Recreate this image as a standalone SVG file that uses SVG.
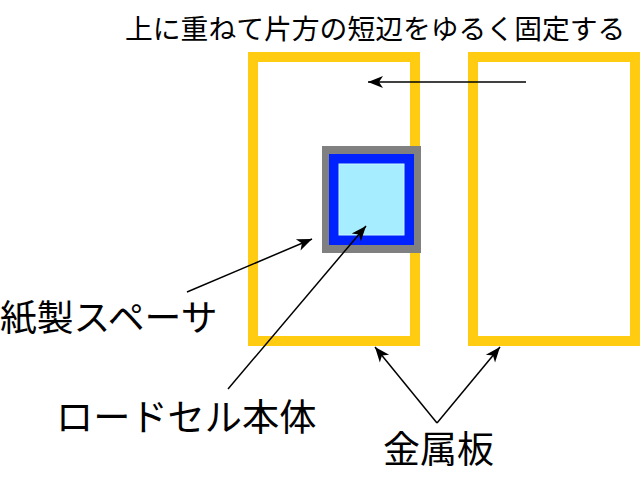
<svg xmlns="http://www.w3.org/2000/svg" width="640" height="480" viewBox="0 0 640 480">
<style>
.lbl{font-family:"Noto Sans CJK JP","Noto Sans",sans-serif;fill:#000}
.plate{fill:none;stroke:#ffcc11;stroke-width:10}
.conn{stroke:#000;stroke-width:1.5;fill:none;marker-end:url(#ah)}
</style>
<defs>
<marker id="ah" markerUnits="userSpaceOnUse" viewBox="-16 -7 18 14" markerWidth="18" markerHeight="14" refX="0" refY="0" orient="auto">
<path d="M0,0 L-15,-6 L-11,0 L-15,6 Z" fill="#000"/>
</marker>
</defs>
<rect width="640" height="480" fill="#fff"/>
<g id="plate-left"><rect class="plate" x="253" y="57" width="162" height="284"/></g>
<g id="plate-right"><rect class="plate" x="473" y="57" width="162" height="284"/></g>
<g id="spacer"><rect x="322" y="146" width="99" height="107" fill="#808080"/></g>
<g id="loadcell">
<rect x="329" y="154" width="85" height="91" fill="#0022ff"/>
<rect x="339" y="164" width="65" height="71" fill="#a6eeff" stroke="#c8f6ff" stroke-width="1"/>
</g>
<g id="connectors">
<line class="conn" x1="526" y1="82" x2="368" y2="82"/>
<line class="conn" x1="187" y1="292" x2="312" y2="239"/>
<line class="conn" x1="228" y1="389" x2="366" y2="226"/>
<line class="conn" x1="437" y1="423" x2="375" y2="347"/>
<line class="conn" x1="437" y1="423" x2="500" y2="347"/>
</g>
<g id="label-top"><text class="lbl" x="125" y="39" font-size="27.8">上に重ねて片方の短辺をゆるく固定する</text></g>
<g id="label-spacer"><text class="lbl" x="0" y="331" font-size="36.8">紙製スペーサ</text></g>
<g id="label-loadcell"><text class="lbl" x="56" y="431" font-size="37.2">ロードセル本体</text></g>
<g id="label-metal"><text class="lbl" x="383" y="463" font-size="37">金属板</text></g>
</svg>
